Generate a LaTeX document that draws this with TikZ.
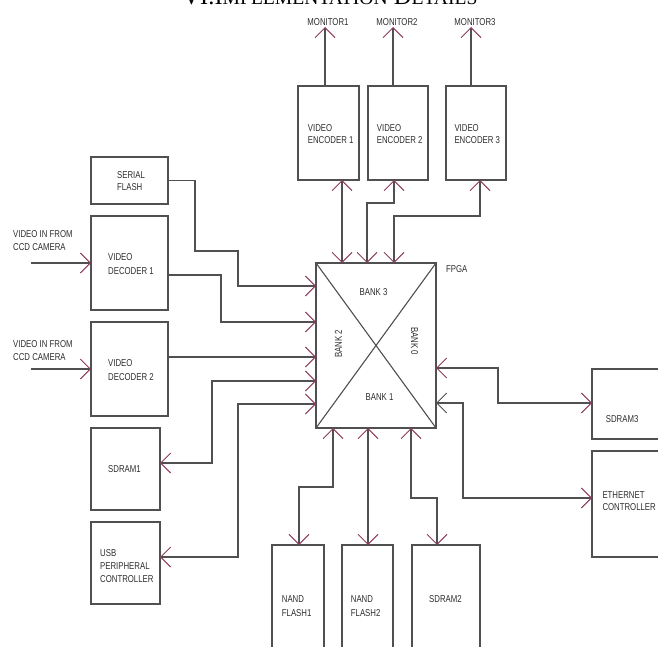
\documentclass[tikz,border=0pt]{standalone}
\usepackage{fontspec}
\setmainfont{Liberation Serif}
\newfontfamily\labfont[FakeStretch=0.78]{Liberation Sans}
\usetikzlibrary{arrows.meta,calc}
\definecolor{linec}{RGB}{80,80,80}
\definecolor{arrowc}{RGB}{140,60,95}
\definecolor{textc}{RGB}{45,45,45}
\tikzset{
  vtip/.tip={Straight Barb[length=10pt,width=20pt,line width=1pt,color=arrowc]},
  gvtip/.tip={Straight Barb[length=10pt,width=20pt,line width=1pt,color=linec]},
}
\begin{document}
\begin{tikzpicture}[x=1pt,y=-1pt,
  box/.style={draw=linec, line width=1.3pt, inner sep=0pt, outer sep=0pt, anchor=north west},
  lbl/.style={font=\labfont\fontsize{10}{13.3}\selectfont, text=textc, inner sep=0pt, anchor=north west, align=left},
  bank/.style={font=\labfont\fontsize{10}{12}\selectfont, text=textc, inner sep=0pt},
  conn/.style={draw=linec, line width=1.2pt},
  >=vtip]
\useasboundingbox (0,0) rectangle (658,647);
\clip (0,0) rectangle (658,647);

% title (cut at top)
\node[anchor=base, inner sep=0pt, font=\fontsize{24.5}{24.5}\selectfont] (title) at (330,5)
  {VI.I{\fontsize{19.6}{19.6}\selectfont MPLEMENTATION} D{\fontsize{19.6}{19.6}\selectfont ETAILS}};

% boxes
\node[box, minimum width=120, minimum height=165] (fpga) at (316,263) {};
\draw[linec, line width=1.1pt] (fpga.north west) -- (fpga.south east);
\draw[linec, line width=1.1pt] (fpga.north east) -- (fpga.south west);

\node[box, minimum width=61, minimum height=94] (ve1) at (298,86) {};
\node[box, minimum width=60, minimum height=94] (ve2) at (368,86) {};
\node[box, minimum width=60, minimum height=94] (ve3) at (446,86) {};
\node[box, minimum width=77, minimum height=47] (sf) at (91,157) {};
\node[box, minimum width=77, minimum height=94] (dec1) at (91,216) {};
\node[box, minimum width=77, minimum height=94] (dec2) at (91,322) {};
\node[box, minimum width=69, minimum height=82] (sdram1) at (91,428) {};
\node[box, minimum width=69, minimum height=82] (usb) at (91,522) {};
\node[box, minimum width=52, minimum height=120] (nand1) at (272,545) {};
\node[box, minimum width=51, minimum height=120] (nand2) at (342,545) {};
\node[box, minimum width=68, minimum height=120] (sdram2) at (412,545) {};
\node[box, minimum width=80, minimum height=70] (sdram3) at (592,369) {};
\node[box, minimum width=80, minimum height=106] (eth) at (592,451) {};

% labels
\node[lbl] (fpgat) at (446,265) {FPGA};
\node[bank] (bank3) at (373.5,292) {BANK 3};
\node[bank] (bank1) at (379.5,397.5) {BANK 1};
\node[bank, rotate=90] (bank2) at (338.3,344) {BANK 2};
\node[bank, rotate=-90] (bank0) at (414.5,341) {BANK 0};

\node[lbl, anchor=north] (mt1) at (328,18) {MONITOR1};
\node[lbl, anchor=north] (mt2) at (397,18) {MONITOR2};
\node[lbl, anchor=north] (mt3) at (475,18) {MONITOR3};

\node[lbl] (ve1t) at (307.7,124.3) {VIDEO\\[-1pt]ENCODER 1};
\node[lbl] (ve2t) at (376.7,124.3) {VIDEO\\[-1pt]ENCODER 2};
\node[lbl] (ve3t) at (454.3,124.3) {VIDEO\\[-1pt]ENCODER 3};
\node[lbl] (sft) at (117,171) {SERIAL\\[-1pt]FLASH};
\node[lbl] (vin1t) at (13,230) {VIDEO IN FROM\\[0.4pt]CCD CAMERA};
\node[lbl] (vin2t) at (13,340) {VIDEO IN FROM\\[0.4pt]CCD CAMERA};
\node[lbl] (dec1t) at (108,253) {VIDEO\\[0.7pt]DECODER 1};
\node[lbl] (dec2t) at (108,359) {VIDEO\\[0.7pt]DECODER 2};
\node[lbl] (sdram1t) at (108,465) {SDRAM1};
\node[lbl] (usbt) at (100,549) {USB\\PERIPHERAL\\CONTROLLER};
\node[lbl] (nand1t) at (281.7,595.7) {NAND\\FLASH1};
\node[lbl] (nand2t) at (350.7,595.7) {NAND\\FLASH2};
\node[lbl] (sdram2t) at (429,595.7) {SDRAM2};
\node[lbl] (sdram3t) at (605.7,415.7) {SDRAM3};
\node[lbl] (etht) at (602.3,491) {ETHERNET\\[-1pt]CONTROLLER};

% monitor outputs
\coordinate (m1) at (325,27);
\coordinate (m2) at (393,27);
\coordinate (m3) at (471,27);
\draw[conn,->] (m1 |- ve1.north) -- (m1);
\draw[conn,->] (m2 |- ve2.north) -- (m2);
\draw[conn,->] (m3 |- ve3.north) -- (m3);

% video inputs
\coordinate (vin1) at ($(dec1.west)+(-60,0)$);
\coordinate (vin2) at ($(dec2.west)+(-60,0)$);
\draw[conn,->] (vin1) -- (dec1.west);
\draw[conn,->] (vin2) -- (dec2.west);

% top connectors
\coordinate (t1) at ($(fpga.north west)+(26,0)$);
\draw[conn,<->] (t1) -- (t1 |- ve1.south);
\draw[conn,<->] ($(fpga.north west)+(51,0)$) |- ($(ve2.south west)+(26,23)$) -- ($(ve2.south west)+(26,0)$);
\draw[conn,<->] ($(fpga.north west)+(78,0)$) |- ($(ve3.south west)+(34,36)$) -- ($(ve3.south west)+(34,0)$);

% left connectors
\draw[conn,->] (sf.east) -- ++(27,0) |- ++(43,70.5) |- ($(fpga.north west)+(0,23)$);
\draw[conn,->] ($(dec1.north east)+(0,59)$) -| ($(fpga.north west)+(-95,59)$) -- ($(fpga.north west)+(0,59)$);
\draw[conn,->] ($(dec2.north east)+(0,35)$) -- ($(fpga.north west)+(0,94)$);
\draw[conn,<->] ($(fpga.north west)+(0,118)$) -| ($(sdram1.north east)+(52,35)$) -- ($(sdram1.north east)+(0,35)$);
\draw[conn,<->] ($(fpga.north west)+(0,141)$) -| ($(usb.north east)+(78,35)$) -- ($(usb.north east)+(0,35)$);

% bottom connectors
\draw[conn,<->] ($(fpga.south west)+(17,0)$) |- ($(nand1.north west)+(27,-58)$) -- ($(nand1.north west)+(27,0)$);
\coordinate (b2) at ($(fpga.south west)+(52,0)$);
\draw[conn,<->] (b2) -- (b2 |- nand2.north);
\draw[conn,<->] ($(fpga.south west)+(95,0)$) |- ($(sdram2.north west)+(25,-47)$) -- ($(sdram2.north west)+(25,0)$);

% right connectors
\draw[conn,<->] ($(fpga.north east)+(0,105)$) -| ($(sdram3.north west)+(-94,34)$) -- ($(sdram3.north west)+(0,34)$);
\draw[conn,gvtip-vtip] ($(fpga.north east)+(0,140)$) -| ($(eth.north west)+(-129,47)$) -- ($(eth.north west)+(0,47)$);
\end{tikzpicture}
\end{document}
